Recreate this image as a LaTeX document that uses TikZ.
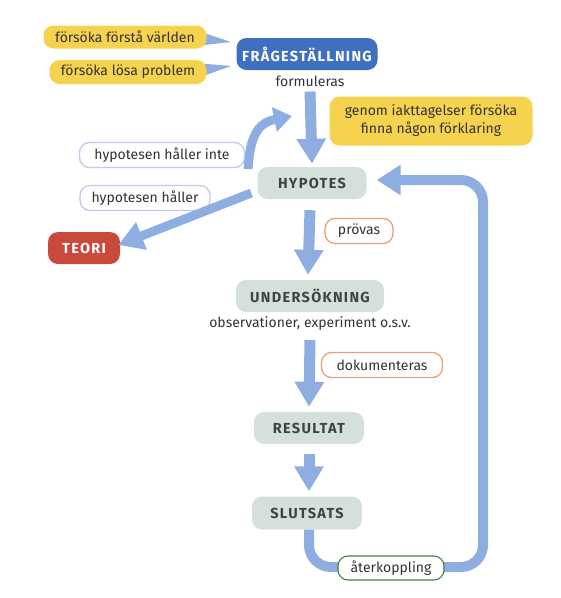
\documentclass[tikz,border=0pt]{standalone}
\usepackage{fontspec}
\setmainfont{Fira Sans}
\newfontfamily\capsfont[LetterSpace=9]{Fira Sans}
\usetikzlibrary{arrows.meta,calc,backgrounds}
\definecolor{arrowblue}{HTML}{8EAEE2}
\definecolor{yel}{HTML}{F6D34F}
\definecolor{boxgray}{HTML}{D6E0DA}
\definecolor{darktext}{HTML}{333333}
\definecolor{capstext}{HTML}{3F4442}
\definecolor{fragablue}{HTML}{3E6FC0}
\definecolor{teorired}{HTML}{C94A3D}
\definecolor{orangeline}{HTML}{E6A07A}
\definecolor{blueline}{HTML}{BCCBEA}
\definecolor{greenline}{HTML}{4E7D4C}
\tikzset{
  txt/.style={font=\fontsize{14}{17}\selectfont},
  capsf/.style={font=\capsfont\bfseries\fontsize{14.5}{17}\selectfont},
  yelbox/.style={fill=yel, rounded corners=10pt, text=darktext, txt, inner sep=0pt, align=center},
  graybox/.style={fill=boxgray, rounded corners=10pt, text=capstext, capsf, inner sep=0pt},
  labbox/.style={fill=white, draw, line width=1.3pt, rounded corners=10pt, text=darktext, txt, inner sep=0pt},
  plain/.style={text=darktext, txt, inner sep=1pt},
  fat/.style={draw=arrowblue, line width=11pt, -{Triangle[width=28pt,length=25pt]}},
  loop/.style={draw=arrowblue, line width=10pt, rounded corners=22pt, -{Triangle[width=29pt,length=24pt]}},
  curvy/.style={draw=arrowblue, line width=9pt, -{Triangle[width=24pt,length=18pt]}},
}
\begin{document}
\begin{tikzpicture}[x=1pt,y=-1pt]
\useasboundingbox (0,0) rectangle (561,598);
% nodes
\node[yelbox, minimum width=163pt, minimum height=23pt] (y1) at (125,37) {försöka förstå världen};
\node[yelbox, minimum width=157pt, minimum height=24pt] (y2) at (128,72) {försöka lösa problem};
\node[fill=fragablue, rounded corners=10pt, text=white, capsf, inner sep=0pt, minimum width=141pt, minimum height=32pt] (fraga) at (307,54) {FRÅGESTÄLLNING};
\node[plain] (form) at (310,81) {formuleras};
\node[yelbox, minimum width=203pt, minimum height=49pt, font=\fontsize{14}{18}\selectfont] (y3) at (431,121) {genom iakttagelser försöka\\finna någon förklaring};
\node[graybox, minimum width=109pt, minimum height=32pt] (hyp) at (312,183) {HYPOTES};
\node[labbox, draw=blueline, minimum width=165pt, minimum height=25pt] (hin) at (162,155) {hypotesen håller inte};
\node[labbox, draw=blueline, minimum width=130pt, minimum height=25pt] (hh) at (145,198) {hypotesen håller};
\node[fill=teorired, rounded corners=10pt, text=white, capsf, inner sep=0pt, minimum width=72pt, minimum height=32pt] (teori) at (84,248) {TEORI};
\node[labbox, draw=orangeline, minimum width=68pt, minimum height=25pt] (prov) at (359,231) {prövas};
\node[graybox, minimum width=148pt, minimum height=32pt] (und) at (310,296) {UNDERSÖKNING};
\node[plain] (obs) at (310,324) {observationer, experiment o.s.v.};
\node[labbox, draw=orangeline, minimum width=121pt, minimum height=25pt] (dok) at (382,365) {dokumenteras};
\node[graybox, minimum width=110pt, minimum height=32pt] (res) at (309,428) {RESULTAT};
\node[graybox, minimum width=110pt, minimum height=33pt] (slut) at (307,513) {SLUTSATS};
\coordinate (tip1) at ($(fraga.west)+(-5,-12)$);
\coordinate (tip2) at ($(fraga.west)+(-5,12)$);
\coordinate (ctip) at (292,116);
\coordinate (lb) at (309,567);
\coordinate (rb) at (483,567);
\coordinate (rt) at (483,180);
\begin{pgfonlayer}{background}
\fill[arrowblue] ($(y1.east)+(-12,-7)$) -- (tip1) -- ($(y1.east)+(-12,9)$) -- cycle;
\fill[arrowblue] ($(y2.east)+(-12,-9)$) -- (tip2) -- ($(y2.east)+(-12,7)$) -- cycle;
\draw[curvy] ($(hin.east)+(3,14)$) .. controls (250,130) and (262,122) .. (ctip);
\end{pgfonlayer}
% arrows
\draw[fat] ($(form.south)+(0,4)$) -- ($(hyp.north)+(0,-3)$);
\draw[fat] ($(hyp.south)+(-2,11)$) -- ($(und.north)+(-2,-5)$);
\draw[fat] ($(obs.south)+(0,8)$) -- ($(res.north)+(0,-5)$);
\draw[fat] ($(res.south)+(0,10)$) -- ($(slut.north)+(2,-5)$);
\draw[fat, line width=9pt] ($(hyp.west)+(-6,10)$) -- ($(teori.east)+(-2,-3)$);
\draw[loop] ($(slut.south)+(2,0)$) -- (lb) -- (rb) -- (rt) -- ($(hyp.east)+(10,-3)$);
\node[labbox, draw=greenline, line width=1.1pt, minimum width=106pt, minimum height=24pt] (ater) at (391,568) {återkoppling};
\end{tikzpicture}
\end{document}
